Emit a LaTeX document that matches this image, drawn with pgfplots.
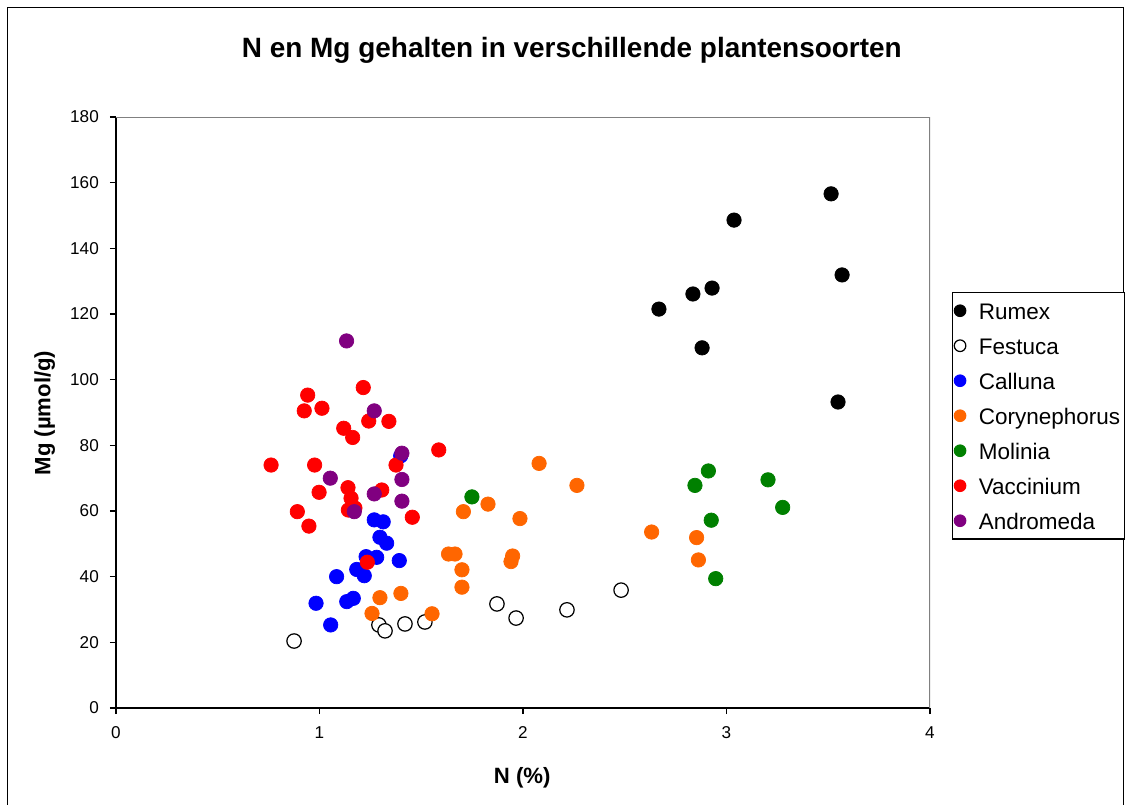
\documentclass[border=0pt]{standalone}
\usepackage{fontspec}
\setmainfont{Liberation Sans}
\usepackage{pgfplots}
\pgfplotsset{compat=1.18}

\definecolor{cRum}{RGB}{0,0,0}
\definecolor{cCal}{RGB}{0,0,255}
\definecolor{cCor}{RGB}{255,102,0}
\definecolor{cMol}{RGB}{0,128,0}
\definecolor{cVac}{RGB}{255,0,0}
\definecolor{cAnd}{RGB}{128,0,128}

\begin{document}
\begin{tikzpicture}
% 1 px of the reference = 0.02cm, origin at top left
\path[use as bounding box] (0,0) rectangle (22.52,-16.08);
\draw[line width=0.8pt] (0.15,-16.3) -- (0.15,-0.15) -- (22.47,-0.15) -- (22.47,-16.3);

\begin{axis}[
  at={(2.32cm,-14.16cm)}, anchor=south west,
  scale only axis,
  width=16.28cm, height=11.82cm,
  xmin=0, xmax=4, ymin=0, ymax=180,
  xtick={0,1,2,3,4},
  ytick={0,20,...,180},
  axis lines*=left,
  axis line style={black, line width=0.6pt},
  tick align=outside,
  major tick length=0.12cm,
  tick style={black, line width=0.6pt},
  /pgf/number format/assume math mode=true,
  tick label style={font=\fontsize{9.75}{11}\selectfont},
  yticklabel style={xshift=-0.1cm},
  xticklabel style={yshift=-0.12cm},
  title={N en Mg gehalten in verschillende plantensoorten},
  title style={at={(0.56,1.117)}, anchor=center, yshift=-7.4pt, font=\bfseries\fontsize{15.9}{18}\selectfont},
  xlabel={N (\%)},
  xlabel style={at={(0.499,-0.118)}, anchor=center, font=\bfseries\fontsize{12.6}{14}\selectfont},
  ylabel={Mg (µmol/g)},
  ylabel style={at={(-0.0875,0.499)}, anchor=center, font=\bfseries\fontsize{12.6}{14}\selectfont},
  legend style={at={(1.027,0.704)}, anchor=north west, draw=black, line width=0.6pt,
    font=\fontsize{12.8}{14}\selectfont, row sep=0.04cm, column sep=0.2cm, inner sep=1pt,
    nodes={inner sep=0.06cm, text height=0.44cm, text depth=0.1cm}},
  legend cell align=left,
  legend image post style={mark size=3.3pt, xshift=0.06cm},
  every axis plot/.append style={only marks, mark=*, mark size=4.1pt},
]
% Rumex
\addplot[mark options={draw=cRum, fill=cRum}] coordinates {
(2.668,121.5) (2.835,126.1) (2.929,127.9) (2.880,109.7) (3.037,148.6)
(3.514,156.6) (3.568,131.9) (3.548,93.2)};
% Festuca
\addplot[mark options={draw=black, fill=white, line width=0.7pt}] coordinates {
(0.875,20.4) (1.292,25.3) (1.322,23.5) (1.420,25.6) (1.518,26.2)
(1.872,31.7) (1.966,27.4) (2.216,29.9) (2.482,35.9)};
% Calluna
\addplot[mark options={draw=cCal, fill=cCal}] coordinates {
(1.269,57.3) (1.313,56.7) (1.297,52.0) (1.330,50.2) (1.229,46.1)
(1.281,45.9) (1.183,42.2) (1.220,40.3) (1.392,44.9) (1.084,40.0)
(0.983,31.9) (1.134,32.4) (1.166,33.4) (1.055,25.3) (1.399,76.8)};
% Corynephorus
\addplot[mark options={draw=cCor, fill=cCor}] coordinates {
(1.258,28.8) (1.297,33.6) (1.400,34.9) (1.553,28.7) (1.634,46.9)
(1.666,46.9) (1.700,42.1) (1.700,36.8) (1.707,59.8) (1.828,62.1)
(1.985,57.7) (1.949,46.3) (1.941,44.6) (2.079,74.5) (2.265,67.8)
(2.632,53.6) (2.853,51.9) (2.862,45.1)};
% Molinia
\addplot[mark options={draw=cMol, fill=cMol}] coordinates {
(1.749,64.3) (2.845,67.8) (2.911,72.2) (3.204,69.5) (3.276,61.1)
(2.925,57.2) (2.947,39.4)};
% Vaccinium
\addplot[mark options={draw=cVac, fill=cVac}] coordinates {
(1.215,97.6) (0.942,95.3) (0.925,90.5) (1.012,91.3) (1.242,87.4)
(1.341,87.3) (1.119,85.2) (1.163,82.4) (1.586,78.6) (0.762,74.0)
(0.976,74.0) (1.376,74.0) (0.998,65.7) (1.140,67.1) (1.155,63.9)
(1.306,66.4) (0.891,59.8) (1.142,60.3) (1.174,60.9) (0.948,55.4)
(1.456,58.1) (1.235,44.4)};
% Andromeda
\addplot[mark options={draw=cAnd, fill=cAnd}] coordinates {
(1.133,111.8) (1.269,90.5) (1.405,77.6) (1.053,70.0) (1.405,69.6)
(1.269,65.2) (1.405,63.0) (1.171,59.8)};
\legend{Rumex,Festuca,Calluna,Corynephorus,Molinia,Vaccinium,Andromeda}
\draw[gray, line width=0.6pt] (rel axis cs:0,1) -- (rel axis cs:1,1) -- (rel axis cs:1,0);
\end{axis}
\end{tikzpicture}
\end{document}
